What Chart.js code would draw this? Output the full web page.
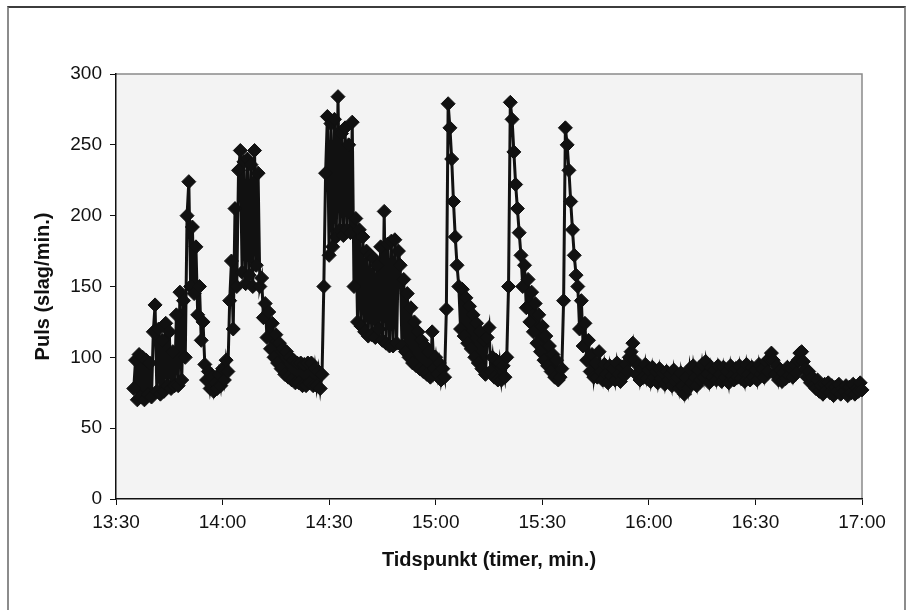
<!DOCTYPE html>
<html>
<head>
<meta charset="utf-8">
<title>Puls</title>
<script src="https://cdn.jsdelivr.net/npm/chart.js@4.4.1/dist/chart.umd.min.js"></script>
<style>
    html, body { margin: 0; padding: 0; background: #fff; overflow: hidden; }
    #frame {
        position: absolute; left: 7px; top: 6px; width: 899px; height: 660px;
        box-sizing: border-box;
        border: 2px solid #8c8c8c; border-top-color: #3c3c3c;
    }
    #chart { position: absolute; left: 0; top: 0; }
</style>
</head>
<body>
<div id="frame"></div>
<canvas id="chart" width="910" height="610"></canvas>
<script>
// x axis runs in minutes after 13:30
const timeLabels = ["13:30", "14:00", "14:30", "15:00", "15:30", "16:00", "16:30", "17:00"];
const firstMinute = 5;     // first reading, minutes after 13:30
const sampleStep  = 0.5;   // minutes between readings

// heart rate, one row per 5 minutes
const pulse = [
    78, 98, 70, 102, 72, 100, 70, 98, 74, 96,
    72, 118, 137, 76, 120, 74, 112, 76, 124, 80,
    118, 78, 104, 80, 130, 80, 146, 84, 140, 100,
    200, 224, 150, 192, 145, 178, 130, 150, 112, 125,
    95, 84, 90, 78, 86, 76, 82, 78, 88, 80,
    92, 84, 98, 90, 140, 168, 120, 205, 150, 232,
    246, 160, 238, 152, 240, 158, 236, 150, 246, 165,
    230, 150, 156, 128, 138, 114, 132, 106, 124, 100,
    116, 96, 110, 92, 106, 88, 104, 86, 100, 84,
    98, 82, 96, 82, 96, 80, 95, 80, 96, 82,
    96, 80, 92, 80, 90, 78, 88, 150, 230, 270,
    172, 265, 178, 268, 185, 284, 190, 258, 186, 262,
    190, 250, 188, 266, 150, 198, 125, 190, 122, 185,
    118, 175, 115, 172, 116, 170, 114, 165, 120, 178,
    112, 203, 110, 180, 108, 182, 108, 183, 110, 175,
    165, 108, 155, 104, 145, 100, 135, 96, 125, 94,
    118, 92, 112, 90, 108, 88, 104, 86, 118, 92,
    100, 88, 96, 84, 92, 86, 134, 279, 262, 240,
    210, 185, 165, 150, 120, 148, 115, 142, 110, 136,
    106, 130, 100, 124, 96, 118, 92, 112, 88, 114,
    121, 90, 100, 86, 98, 84, 96, 84, 94, 86,
    100, 150, 280, 268, 245, 222, 205, 188, 172, 150,
    165, 135, 155, 125, 146, 118, 138, 110, 130, 104,
    122, 98, 115, 94, 108, 90, 102, 86, 98, 84,
    86, 92, 140, 262, 250, 232, 210, 190, 172, 158,
    150, 120, 140, 108, 124, 98, 112, 90, 102, 86,
    96, 86, 104, 90, 84, 95, 88, 82, 94, 87,
    92, 84, 96, 88, 83, 93, 87, 95, 90, 100,
    104, 110, 98, 88, 94, 84, 92, 86, 95, 85,
    91, 83, 93, 86, 90, 82, 92, 85, 89, 81,
    90, 84, 88, 80, 91, 83, 86, 78, 89, 80,
    74, 86, 78, 92, 82, 94, 86, 80, 91, 84,
    95, 86, 97, 88, 82, 93, 86, 91, 84, 94,
    88, 83, 93, 86, 90, 82, 94, 87, 84, 92,
    86, 94, 85, 90, 83, 95, 88, 84, 93, 86,
    91, 84, 95, 88, 92, 86, 97, 90, 99, 103,
    98, 88, 94, 84, 91, 83, 89, 85, 93, 87,
    92, 86, 95, 89, 98, 103, 104, 97, 92, 86,
    90, 82, 86, 80, 78, 84, 76, 80, 74, 81,
    77, 82, 75, 80, 73, 79, 76, 81, 74, 78,
    76, 80, 73, 79, 75, 81, 74, 78, 76, 82,
    77
];

/**
 * Turns the pulse readings into {x, y} points on the minute axis.
 */
function buildPoints()
{
    let points = [];
    for(let i = 0; i < pulse.length; i++)
    {
        points.push({ x: firstMinute + i * sampleStep, y: pulse[i] });
    }
    return points;
}

// grey plot area with a thin border on top and right
const plotArea = {
    id: "plotArea",
    beforeDraw(chart) {
        const { ctx, chartArea: a } = chart;
        ctx.save();
        ctx.fillStyle = "#f3f3f3";
        ctx.fillRect(a.left, a.top, a.right - a.left, a.bottom - a.top);
        ctx.strokeStyle = "#8a8a8a";
        ctx.lineWidth = 1.5;
        ctx.beginPath();
        ctx.moveTo(a.left, a.top);
        ctx.lineTo(a.right, a.top);
        ctx.lineTo(a.right, a.bottom);
        ctx.stroke();
        ctx.restore();
    }
};

const tickFont  = { family: "'Liberation Sans', Arial, sans-serif", size: 19 };
const titleFont = { family: "'Liberation Sans', Arial, sans-serif", size: 20, weight: "bold" };

function drawChart()
{
    new Chart(document.getElementById("chart"), {
        type: "line",
        data: {
            datasets: [{
                data: buildPoints(),
                borderColor: "#111",
                borderWidth: 3,
                pointStyle: "rectRot",
                pointRadius: 7,
                pointBorderWidth: 1,
                pointBackgroundColor: "#111",
                pointBorderColor: "#111",
                tension: 0,
                clip: false
            }]
        },
        options: {
            responsive: false,
            animation: false,
            layout: { padding: { left: 0, top: 74, right: 48, bottom: 0 } },
            plugins: {
                legend: { display: false },
                tooltip: { enabled: false }
            },
            scales: {
                x: {
                    type: "linear",
                    min: 0,
                    max: 210,
                    afterFit: (scale) => { scale.height = 111; },
                    ticks: {
                        stepSize: 30,
                        color: "#111",
                        font: tickFont,
                        padding: 6,
                        maxRotation: 0,
                        callback: (value) => timeLabels[value / 30]
                    },
                    grid: { drawOnChartArea: false, color: "#111", tickLength: 6 },
                    border: { color: "#111", width: 1.5 },
                    title: {
                        display: true,
                        text: "Tidspunkt (timer, min.)",
                        color: "#111",
                        font: titleFont,
                        padding: { top: 4, bottom: 38 }
                    }
                },
                y: {
                    min: 0,
                    max: 300,
                    afterFit: (scale) => { scale.width = 116; },
                    ticks: {
                        stepSize: 50,
                        color: "#111",
                        font: tickFont,
                        padding: 8
                    },
                    grid: { drawOnChartArea: false, color: "#111", tickLength: 6 },
                    border: { color: "#111", width: 1.5 },
                    title: {
                        display: true,
                        text: "Puls (slag/min.)",
                        color: "#111",
                        font: titleFont,
                        padding: { top: 31, bottom: 0 }
                    }
                }
            }
        },
        plugins: [plotArea]
    });
}

drawChart();
</script>
</body>
</html>
